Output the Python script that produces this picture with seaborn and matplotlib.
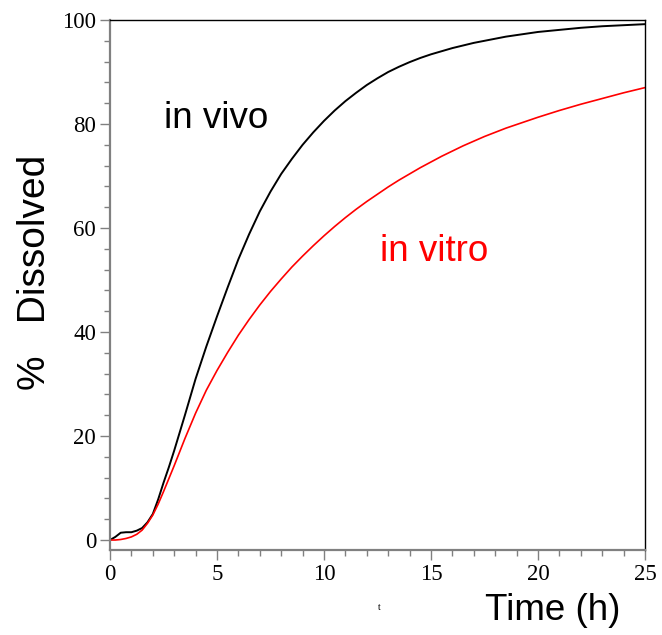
import matplotlib
matplotlib.use("Agg")
import matplotlib.pyplot as plt
from matplotlib.ticker import MultipleLocator
import seaborn as sns
import pandas as pd

# Sampling times (h)
time_h = [0, 0.25, 0.5, 0.75, 1, 1.25, 1.5, 1.75, 2, 2.25, 2.5, 2.75, 3,
          3.5, 4, 4.5, 5, 5.5, 6, 6.5, 7, 7.5, 8, 8.5, 9, 9.5, 10, 10.5, 11, 11.5,
          12, 12.5, 13, 13.5, 14, 14.5, 15, 15.5, 16, 16.5, 17, 17.5, 18, 18.5,
          19, 19.5, 20, 21, 22, 23, 24, 25]

# Percent dissolved, in vivo (deconvolved) profile
in_vivo = [0, 0.6, 1.4, 1.5, 1.5, 1.8, 2.3, 3.4, 5.0, 7.8, 11.0, 14.0, 17.2,
           24.0, 31.0, 37.2, 43.0, 48.6, 54.0, 58.8, 63.2, 67.0, 70.4, 73.3, 76.0, 78.4,
           80.6, 82.6, 84.4, 86.0, 87.5, 88.8, 90.0, 91.0, 91.9, 92.7, 93.4, 94.0, 94.6,
           95.1, 95.6, 96.0, 96.4, 96.8, 97.1, 97.4, 97.7,
           98.1, 98.5, 98.8, 99.0, 99.2]

# Percent dissolved, in vitro profile
in_vitro = [0, 0.0, 0.1, 0.3, 0.6, 1.1, 1.9, 3.2, 4.8, 6.9, 9.3, 11.8, 14.3,
            19.5, 24.4, 28.8, 32.6, 36.1, 39.4, 42.4, 45.2, 47.8, 50.2, 52.5, 54.6, 56.6,
            58.5, 60.3, 62.0, 63.6, 65.1, 66.5, 67.9, 69.2, 70.4, 71.6, 72.7, 73.8, 74.8,
            75.8, 76.7, 77.6, 78.4, 79.2, 79.9, 80.6, 81.3,
            82.6, 83.8, 84.9, 86.0, 87.0]

x_ticks = [0, 5, 10, 15, 20, 25]
y_ticks = [0, 20, 40, 60, 80, 100]

df = pd.DataFrame({"time": time_h, "in vivo": in_vivo, "in vitro": in_vitro})

sns.set_style("white")
fig = plt.figure(figsize=(6.62, 6.35), dpi=100)
ax = fig.add_axes([110 / 662, 1 - 550 / 635, 535 / 662, 530 / 635])

sns.lineplot(data=df, x="time", y="in vivo", color="black", linewidth=1.4, ax=ax)
sns.lineplot(data=df, x="time", y="in vitro", color="#ff0000", linewidth=1.2, ax=ax)

# the time axis sits a little below the zero line
ax.set_xlim(0, 25)
ax.set_ylim(-1.92, 100)
ax.set_xticks(x_ticks)
ax.set_yticks(y_ticks)
ax.xaxis.set_minor_locator(MultipleLocator(1))
ax.yaxis.set_minor_locator(MultipleLocator(4))

serif = ["Liberation Serif", "DejaVu Serif"]
sans = ["Liberation Sans", "DejaVu Sans"]

ax.tick_params(which="both", left=True, bottom=True, top=False, right=False)
ax.tick_params(which="major", direction="out", length=7, width=1.0, color="#808080",
               pad=3, labelsize=16.5, labelcolor="black")
ax.tick_params(which="minor", direction="out", length=4, width=1.0, color="#808080")
for lab in ax.get_xticklabels() + ax.get_yticklabels():
    lab.set_family(serif)

for side in ("left", "bottom"):
    ax.spines[side].set_color("#808080")
    ax.spines[side].set_linewidth(1.6)
for side in ("top", "right"):
    ax.spines[side].set_visible(True)
    ax.spines[side].set_color("black")
    ax.spines[side].set_linewidth(1.0)

ax.set_xlabel("")
ax.set_ylabel("")

fig.text(35 / 662, 1 - 272 / 635, "%   Dissolved", rotation=90, ha="center", va="center",
         fontsize=28, family=sans, color="black")
fig.text(620 / 662, 1 - 611 / 635, "Time (h)", ha="right", va="center",
         fontsize=26.5, family=sans, color="black")
fig.text(379 / 662, 1 - 607 / 635, "t", ha="center", va="center", fontsize=7,
         family=serif, color="black")

ax.text(2.5, 81, "in vivo", color="black", fontsize=26.5, family=sans, va="center", ha="left")
ax.text(12.6, 55.5, "in vitro", color="#ff0000", fontsize=26.5, family=sans, va="center", ha="left")

fig.savefig("out.png", dpi=100)
